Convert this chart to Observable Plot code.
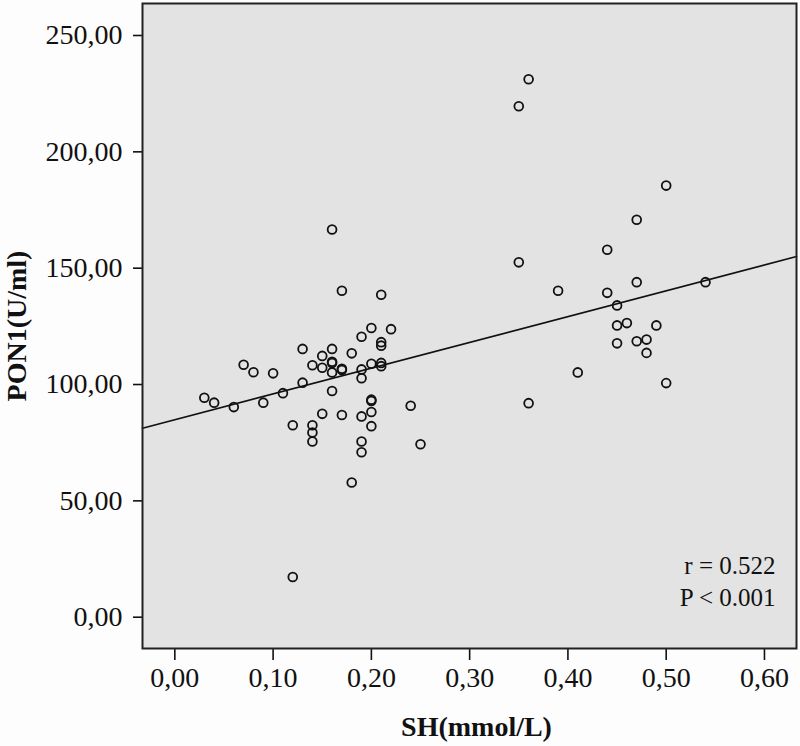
<!DOCTYPE html>
<html>
<head>
<meta charset="utf-8">
<script src="https://cdn.jsdelivr.net/npm/d3@7"></script>
<script src="https://cdn.jsdelivr.net/npm/@observablehq/plot@0.6"></script>
<style>
  html, body { margin: 0; padding: 0; background: #fdfdfd; }
  #chart svg { display: block; }
</style>
</head>
<body>
<div id="chart"></div>
<script>
// SH (mmol/L) values
const sh = [
  0.16, 0.17, 0.21, 0.20, 0.22, 0.36, 0.35, 0.50, 0.47, 0.44,
  0.35, 0.39, 0.44, 0.47, 0.54, 0.45, 0.45, 0.46, 0.49, 0.45,
  0.47, 0.48, 0.48, 0.50, 0.41, 0.36, 0.19, 0.21, 0.21, 0.13,
  0.16, 0.15, 0.18, 0.07, 0.08, 0.10, 0.14, 0.15, 0.16, 0.16,
  0.17, 0.17, 0.16, 0.19, 0.20, 0.21, 0.21, 0.19, 0.13, 0.11,
  0.16, 0.03, 0.04, 0.06, 0.09, 0.20, 0.20, 0.24, 0.15, 0.17,
  0.19, 0.20, 0.12, 0.14, 0.14, 0.14, 0.20, 0.19, 0.19, 0.25,
  0.18, 0.12
];
// PON1 (U/ml) values
const pon1 = [
  166.6, 140.3, 138.6, 124.3, 123.8, 231.2, 219.6, 185.5, 170.8, 157.9,
  152.5, 140.3, 139.4, 144.0, 144.0, 134.0, 125.4, 126.4, 125.4, 117.7,
  118.6, 119.3, 113.6, 100.6, 105.2, 92.0, 120.5, 118.2, 116.7, 115.3,
  115.3, 112.3, 113.4, 108.5, 105.3, 104.8, 108.3, 107.2, 109.8, 109.2,
  106.8, 106.2, 105.2, 106.5, 108.9, 109.3, 107.9, 102.7, 100.8, 96.3,
  97.2, 94.3, 92.2, 90.3, 92.2, 93.5, 92.9, 90.9, 87.4, 86.9,
  86.3, 88.2, 82.5, 82.5, 79.4, 75.5, 82.1, 75.5, 70.9, 74.3,
  57.9, 17.3
];
// fit line as shown in the figure
const fitIntercept = 84.85;
const fitSlope = 110.9;

const xTicks = [0, 0.1, 0.2, 0.3, 0.4, 0.5, 0.6];
const yTicks = [0, 50, 100, 150, 200, 250];
const xTitle = "SH(mmol/L)";
const yTitle = "PON1(U/ml)";
const statText = "r = 0.522\nP < 0.001";

const data = sh.map((x, i) => ({x, y: pon1[i]}));
const xDomain = [-0.0329, 0.6326];
const yDomain = [-13.45, 263.75];
const fit = xDomain.map(x => ({x, y: fitIntercept + fitSlope * x}));

const fmt = d => d.toFixed(2).replace(".", ",");
const serif = "'Liberation Serif', 'Times New Roman', serif";

const chart = Plot.plot({
  width: 800,
  height: 746,
  marginLeft: 142,
  marginRight: 4,
  marginTop: 3,
  marginBottom: 98,
  style: {fontFamily: serif, fontSize: "28px", background: "#fdfdfd", color: "#111"},
  x: {domain: xDomain},
  y: {domain: yDomain},
  marks: [
    Plot.frame({fill: "#e3e3e3", stroke: null}),
    Plot.axisX({ticks: xTicks, tickFormat: fmt, tickSize: 12, tickPadding: 7, strokeWidth: 1.6, label: null, fontSize: 28}),
    Plot.axisY({ticks: yTicks, tickFormat: fmt, tickSize: 9, tickPadding: 11, strokeWidth: 1.6, label: null, fontSize: 28}),
    Plot.line(fit, {x: "x", y: "y", stroke: "#111", strokeWidth: 1.7}),
    Plot.dot(data, {x: "x", y: "y", r: 4.4, stroke: "#111", strokeWidth: 1.8, fill: "none"}),
    Plot.text([statText], {text: d => d, frameAnchor: "bottom-right", dx: -21, dy: -69, lineAnchor: "middle", lineHeight: 1.3, textAnchor: "end", fontSize: 25}),
    Plot.text([xTitle], {text: d => d, frameAnchor: "bottom", textAnchor: "middle", dx: 7, dy: 87, fontSize: 28, fontWeight: "bold"}),
    Plot.text([yTitle], {text: d => d, frameAnchor: "left", textAnchor: "middle", lineAnchor: "middle", dx: -125, rotate: -90, fontSize: 28, fontWeight: "bold"}),
    Plot.frame({stroke: "#222", strokeWidth: 2})
  ]
});
document.getElementById("chart").appendChild(chart);
</script>
</body>
</html>
